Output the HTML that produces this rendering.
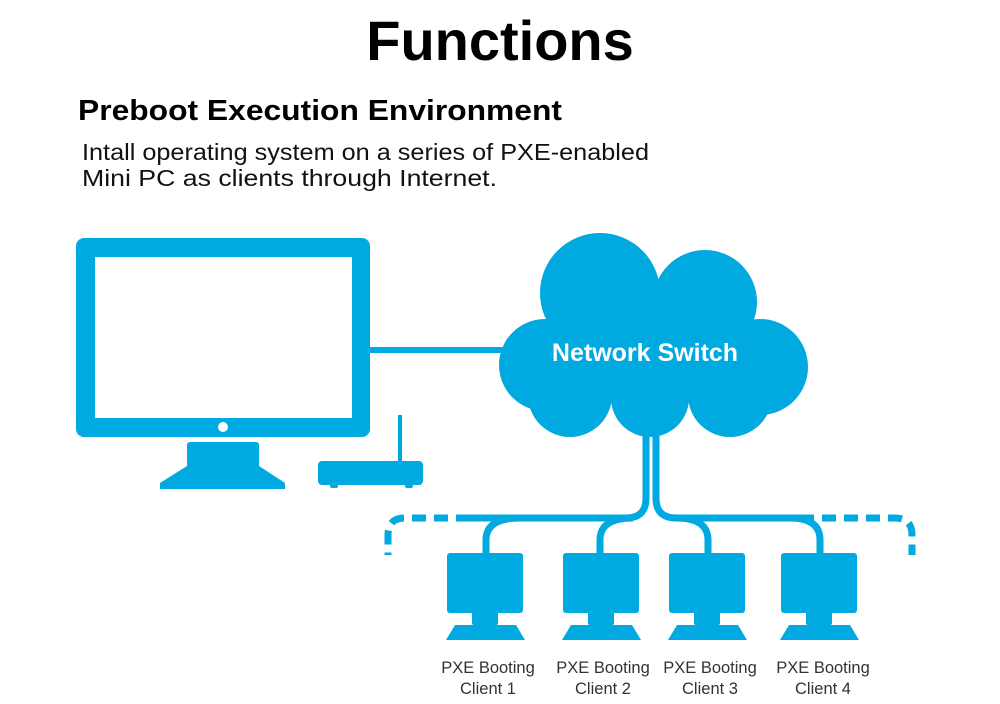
<!DOCTYPE html>
<html><head><meta charset="utf-8"><style>
html,body{margin:0;padding:0;background:#fff;width:1000px;height:704px;overflow:hidden}
svg{display:block}
</style></head><body>
<svg width="1000" height="704" viewBox="0 0 1000 704" xmlns="http://www.w3.org/2000/svg">
<text x="500" y="60" text-anchor="middle" font-family="Liberation Sans, sans-serif" font-weight="bold" font-size="56" fill="#000">Functions</text>
<text x="78" y="120" font-family="Liberation Sans, sans-serif" font-weight="bold" font-size="29" fill="#000" textLength="484" lengthAdjust="spacingAndGlyphs">Preboot Execution Environment</text>
<text x="82" y="160" font-family="Liberation Sans, sans-serif" font-size="23" fill="#111" textLength="567" lengthAdjust="spacingAndGlyphs">Intall operating system on a series of PXE-enabled</text>
<text x="82" y="186" font-family="Liberation Sans, sans-serif" font-size="23" fill="#111" textLength="415" lengthAdjust="spacingAndGlyphs">Mini PC as clients through Internet.</text>
<g fill="#00a9e0">
<rect x="76" y="238" width="294" height="199" rx="8"/>
<rect x="95" y="257" width="257" height="161" fill="#fff"/>
<circle cx="223" cy="427" r="5" fill="#fff"/>
<rect x="187" y="442" width="72" height="32" rx="3"/>
<polygon points="187,466 259,466 285,483 285,489 160,489 160,483"/>
<rect x="318" y="461" width="105" height="24" rx="4"/>
<rect x="398" y="415" width="4" height="48"/>
<rect x="330" y="483" width="8" height="5" rx="2"/><rect x="405" y="483" width="8" height="5" rx="2"/>
<rect x="370" y="347" width="140" height="6"/>
<circle cx="600" cy="293" r="60"/>
<circle cx="705" cy="302" r="52"/>
<circle cx="545" cy="365" r="46"/>
<circle cx="760" cy="367" r="48"/>
<circle cx="570" cy="395" r="42"/>
<circle cx="650" cy="398" r="39"/>
<circle cx="730" cy="395" r="42"/>
<rect x="560" y="300" width="180" height="100"/>
<rect x="550" y="325" width="200" height="75"/>
</g>
<text x="645" y="361" text-anchor="middle" font-family="Liberation Sans, sans-serif" font-weight="bold" font-size="25" fill="#fff">Network Switch</text>
<g fill="none" stroke="#00a9e0" stroke-width="7">
<path d="M646,430 V498 Q646,518 626,518 H470"/>
<path d="M656,430 V498 Q656,518 676,518 H800"/>
<path d="M470,518 H405 Q388,518 388,535 V555" stroke-dasharray="14,8"/>
<path d="M800,518 H895 Q912,518 912,535 V555" stroke-dasharray="14,8"/>
<path d="M520,518 Q486,518 486,540 V556"/>
<path d="M633,518 Q600,518 600,540 V556"/>
<path d="M676,518 Q708,518 708,540 V556"/>
<path d="M790,518 Q820,518 820,540 V556"/>
</g>
<g fill="#00a9e0">
<g id="c"><rect x="447" y="553" width="76" height="60" rx="3"/><rect x="472" y="611" width="26" height="14" rx="2"/><polygon points="455,625 516,625 525,640 446,640"/></g>
<use href="#c" x="116"/>
<use href="#c" x="222"/>
<use href="#c" x="334"/>
</g>
<g font-family="Liberation Sans, sans-serif" font-size="16.5" fill="#333" text-anchor="middle">
<text x="488" y="673">PXE Booting</text><text x="488" y="694">Client 1</text>
<text x="603" y="673">PXE Booting</text><text x="603" y="694">Client 2</text>
<text x="710" y="673">PXE Booting</text><text x="710" y="694">Client 3</text>
<text x="823" y="673">PXE Booting</text><text x="823" y="694">Client 4</text>
</g>
</svg>
</body></html>
